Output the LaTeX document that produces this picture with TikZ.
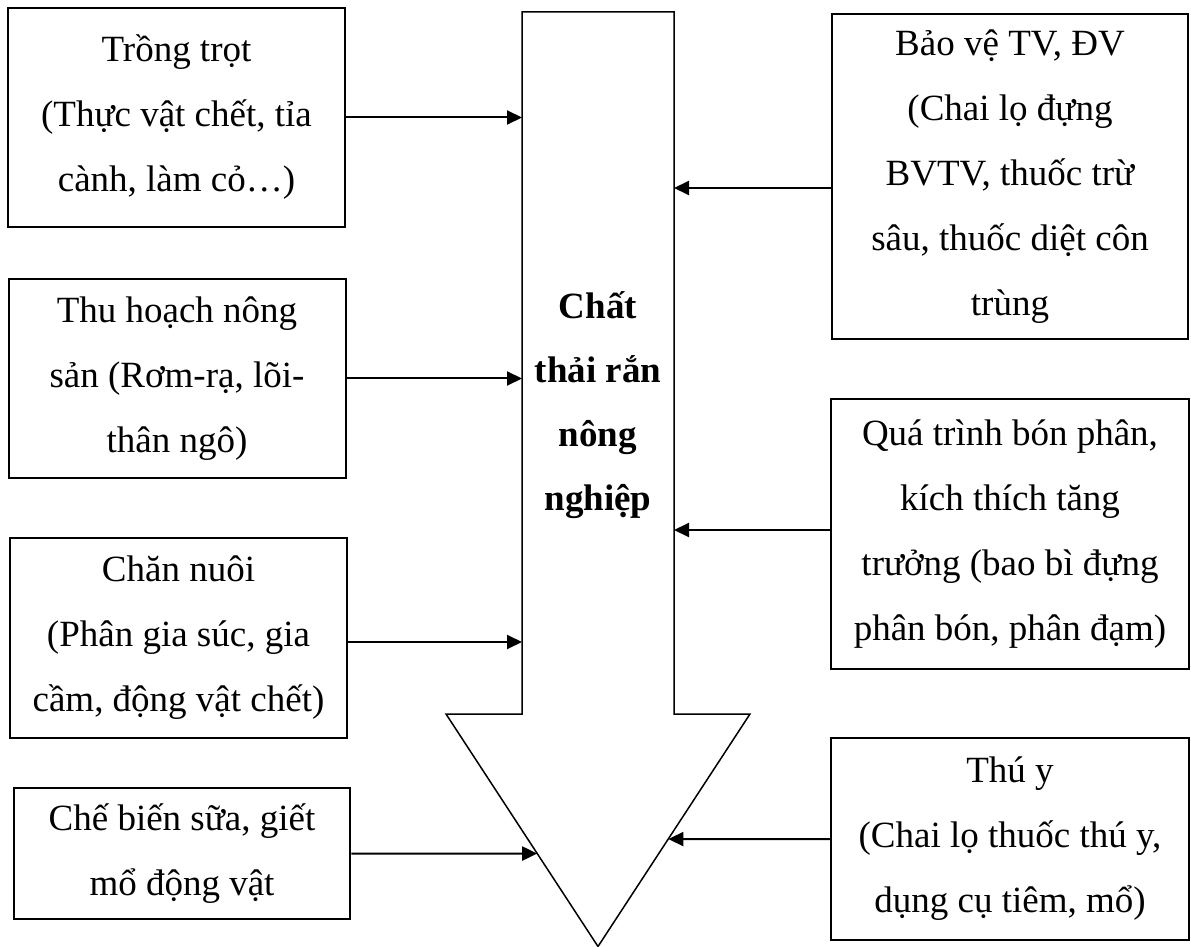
\documentclass[tikz,border=0pt]{standalone}
\usepackage{fontspec}
\setmainfont{Liberation Serif}
\usetikzlibrary{arrows.meta}

\begin{document}
\begin{tikzpicture}[x=0.5pt,y=-0.5pt,
    box/.style={draw,line width=1pt,inner sep=0pt,align=center,
      font=\fontsize{18.5pt}{32.5pt}\selectfont},
    feed/.style={line width=1pt,-{Triangle[length=7.5pt,width=7pt]}}]
  \useasboundingbox (0,0) rectangle (1191,947);
  % big arrow
  \coordinate (shaftTL) at (522,12);
  \coordinate (shaftTR) at (674,12);
  \coordinate (shaftBL) at (522,714);
  \coordinate (shaftBR) at (674,714);
  \coordinate (headL) at (446,714);
  \coordinate (headR) at (750,714);
  \coordinate (tip) at (598,946.5);
  \draw[line width=0.75pt] (shaftTL) -- (shaftTR) -- (shaftBR) -- (headR)
    -- (tip) -- (headL) -- (shaftBL) -- cycle;
  \node[align=center,font=\bfseries\fontsize{18.5pt}{32pt}\selectfont] (waste)
    at (598,405) {Chất\\thải rắn\\nông\\nghiệp};
  % left side
  \node[box,minimum width=168.5pt,minimum height=109.5pt] (crop) at (176.5,117.5)
    {Trồng trọt\\(Thực vật chết, tỉa\\cành, làm cỏ…)};
  \node[box,minimum width=168.5pt,minimum height=99.5pt] (harvest) at (177,378.5)
    {Thu hoạch nông\\sản (Rơm-rạ, lõi-\\thân ngô)};
  \node[box,minimum width=168.5pt,minimum height=100pt] (livestock) at (178.5,638)
    {Chăn nuôi\\(Phân gia súc, gia\\cầm, động vật chết)};
  \node[box,minimum width=168.25pt,minimum height=65.5pt] (process) at (182,853.5)
    {Chế biến sữa, giết\\mổ động vật};
  % right side
  \node[box,minimum width=178.25pt,minimum height=162.5pt] (protect) at (1010,176.5)
    {Bảo vệ TV, ĐV\\(Chai lọ đựng\\BVTV, thuốc trừ\\sâu, thuốc diệt côn\\trùng};
  \node[box,minimum width=179pt,minimum height=135pt] (fertil) at (1010,534)
    {Quá trình bón phân,\\kích thích tăng\\trưởng (bao bì đựng\\phân bón, phân đạm)};
  \node[box,minimum width=179pt,minimum height=101pt] (vet) at (1010,839)
    {Thú y\\(Chai lọ thuốc thú y,\\dụng cụ tiêm, mổ)};
  % connectors
  \coordinate (livestockOut) at ([yshift=-2pt]livestock.east);
  \coordinate (protectOut) at ([yshift=-5.75pt]protect.west);
  \coordinate (fertilOut) at ([yshift=2pt]fertil.west);
  \coordinate (processX) at (process.east -| tip);
  \coordinate (vetX) at (vet.west -| tip);
  \draw[feed] (crop.east) -- (crop.east -| shaftTL);
  \draw[feed] (harvest.east) -- (harvest.east -| shaftTL);
  \draw[feed] (livestockOut) -- (livestockOut -| shaftTL);
  \draw[feed] (process.east) -- (intersection of process.east--processX and headL--tip);
  \draw[feed] (protectOut) -- (protectOut -| shaftTR);
  \draw[feed] (fertilOut) -- (fertilOut -| shaftTR);
  \draw[feed] (vet.west) -- (intersection of vet.west--vetX and headR--tip);
\end{tikzpicture}
\end{document}
